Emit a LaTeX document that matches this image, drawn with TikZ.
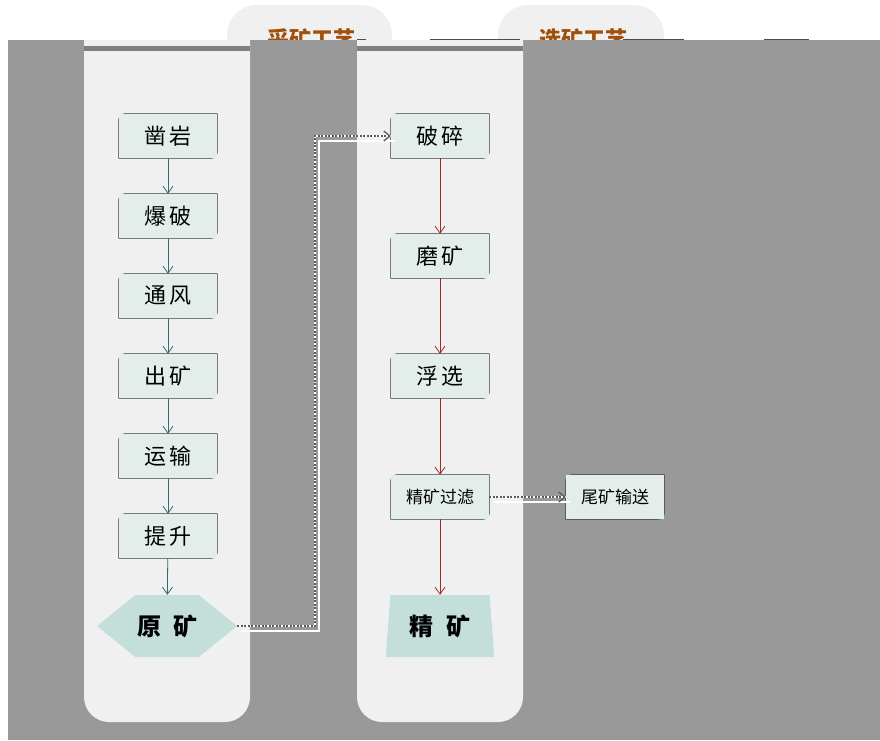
\documentclass[tikz,border=0pt]{standalone}
\usepackage{fontspec}
\newfontfamily\cjk{Noto Sans CJK SC}
\usetikzlibrary{arrows.meta,shapes.geometric,shapes.symbols}

\definecolor{sheet}{HTML}{999999}
\definecolor{lane}{HTML}{F0F0F0}
\definecolor{boxfill}{HTML}{E3EEEB}
\definecolor{boxline}{HTML}{3A3A3A}
\definecolor{orefill}{HTML}{C4DFDA}
\definecolor{titlebrown}{HTML}{A0500A}
\definecolor{minearrow}{HTML}{2E6E70}
\definecolor{millarrow}{HTML}{A02828}
\definecolor{feedline}{HTML}{5A5A5A}

\tikzset{
	stepbox/.style = {minimum width = 98pt, minimum height = 44pt, inner sep = 0pt, fill = boxfill,
		font = \cjk\fontsize{22}{22}\selectfont,
		append after command = {\pgfextra{\draw[boxline, line width = 0.8pt]
			(\tikzlastnode.west) [rounded corners = 6pt] -- (\tikzlastnode.north west) -- (\tikzlastnode.north)
			[sharp corners] -- (\tikzlastnode.north east) -- (\tikzlastnode.east)
			[rounded corners = 6pt] -- (\tikzlastnode.south east) -- (\tikzlastnode.south)
			[sharp corners] -- (\tikzlastnode.south west) -- cycle;}}},
	smallbox/.style = {stepbox, font = \cjk\fontsize{17}{17}\selectfont},
	product/.style = {fill = orefill, inner sep = 0pt, font = \cjk\bfseries\fontsize{24}{24}\selectfont},
	mine/.style = {draw = minearrow, line width = 0.8pt, -{Straight Barb[length = 7pt, width = 10pt]}},
	mill/.style = {draw = millarrow, line width = 0.8pt, -{Straight Barb[length = 7pt, width = 10pt]}},
	feed/.style = {draw = feedline, line width = 1.3pt, dash pattern = on 2pt off 1.5pt,
		-{Straight Barb[length = 6pt, width = 10pt]},
		preaction = {draw = white, line width = 2.6pt, solid, -, transform canvas = {shift = {(4pt, -5pt)}}},
		preaction = {draw = white, line width = 1.3pt, solid, -}},
	title/.style = {text = titlebrown, font = \cjk\bfseries\fontsize{22}{22}\selectfont}
}

\begin{document}
\begin{tikzpicture}[x = 1pt, y = -1pt]

\useasboundingbox (0, 0) rectangle (880, 740);
\fill[white] (0, 0) rectangle (880, 740);

% tabs with the stage titles
\fill[lane, rounded corners = 30pt] (227, 5) rectangle (392, 90);
\fill[lane, rounded corners = 30pt] (498, 5) rectangle (664, 90);
\node[title] (T1) at (311, 39) {采矿工艺};
\node[title] (T2) at (583, 39) {选矿工艺};

\fill[sheet] (8, 40) rectangle (880, 740);
\foreach \a/\b in {357/366, 430/520, 623/684, 764/809}
	\draw[black!70, line width = 1.5pt] (\a, 39.5) -- (\b, 39.5);

% lanes
\begin{scope}
	\clip (0, 40) rectangle (880, 740);
	\foreach \x in {84, 357} {
		\fill[lane, rounded corners = 25pt] (\x, 0) rectangle (\x + 166, 722);
		\fill[black!50] (\x, 46) rectangle (\x + 166, 51);
	}
\end{scope}

% mining
\foreach \a/\b [count = \i] in {凿/岩, 爆/破, 通/风, 出/矿, 运/输, 提/升}
	\node[stepbox] (m\i) at (168, 56 + 80 * \i) {\a\hspace{4pt}\b};

\node[product, shape = signal, signal to = west and east, signal pointer angle = 78,
	minimum width = 140pt, minimum height = 62pt] (ore) at (167, 626) {原\hspace{12pt}矿};

\foreach \i in {1, ..., 5} {
	\pgfmathtruncatemacro{\k}{\i + 1}
	\draw[mine] (m\i) -- (m\k);
}
\draw[mine] (m6) -- (ore);

% milling
\node[stepbox] (p1) at (440, 136) {破\hspace{4pt}碎};
\node[stepbox] (p2) at (440, 256) {磨\hspace{4pt}矿};
\node[stepbox] (p3) at (440, 376) {浮\hspace{4pt}选};
\node[smallbox] (p4) at (440, 497) {精矿过滤};
\node[smallbox] (tail) at (615, 497) {尾矿输送};

\node[product, trapezium, trapezium left angle = 83, trapezium right angle = 83, trapezium stretches = true,
	minimum width = 109pt, minimum height = 62pt] (conc) at (440, 626) {精\hspace{14pt}矿};

\draw[mill] (p1) -- (p2);
\draw[mill] (p2) -- (p3);
\draw[mill] (p3) -- (p4);
\draw[mill] (p4) -- (conc);

\coordinate (turn) at (315, 626);
\draw[feed] (ore.east) -- (turn) |- (p1.west);
\draw[feed] (p4) -- (tail);

\end{tikzpicture}
\end{document}
